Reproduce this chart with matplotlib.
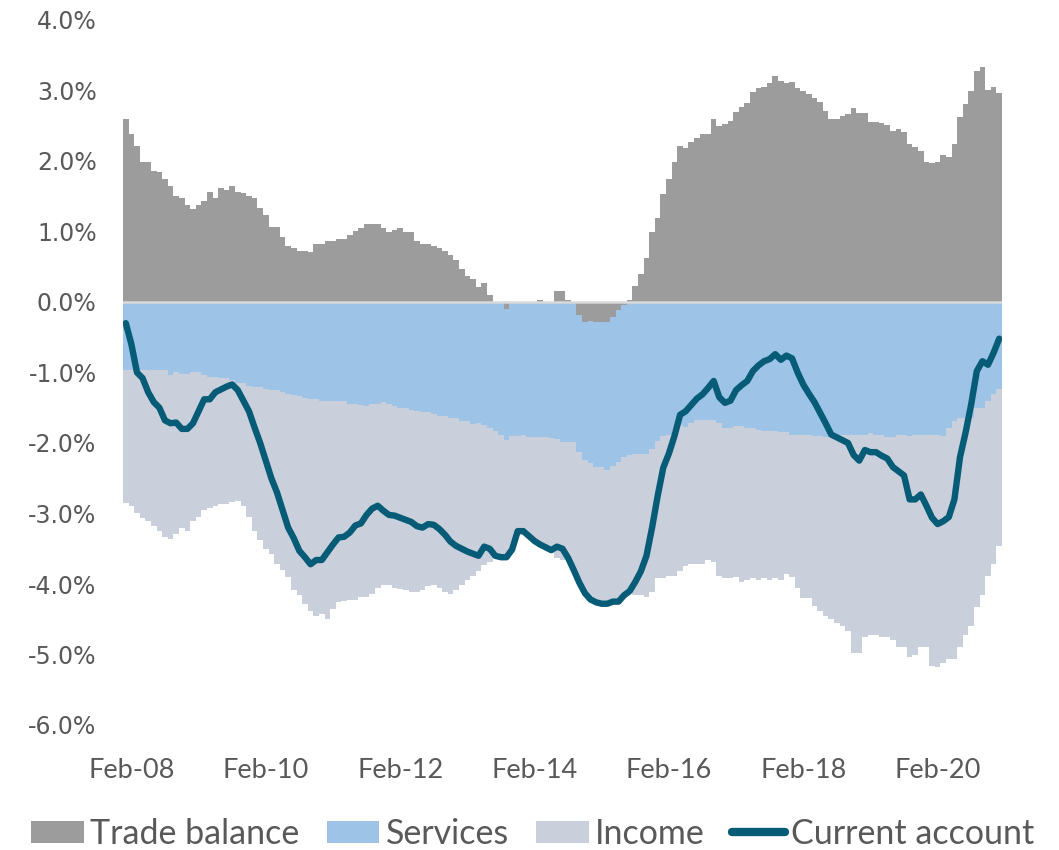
import numpy as np
import pandas as pd
import matplotlib
matplotlib.use("Agg")
import matplotlib.pyplot as plt
from matplotlib.patches import Patch
from matplotlib.lines import Line2D
from matplotlib.font_manager import FontProperties

# Monthly observations, % of GDP (rolling 12m)
months = pd.date_range("2008-01-01", periods=157, freq="MS")

trade = [
    2.60, 2.39, 2.21, 1.99, 1.99, 1.86, 1.84, 1.74, 1.65, 1.50,
    1.47, 1.37, 1.32, 1.37, 1.43, 1.56, 1.47, 1.62, 1.59, 1.65,
    1.56, 1.54, 1.50, 1.47, 1.34, 1.23, 1.07, 1.07, 0.92, 0.80,
    0.76, 0.73, 0.73, 0.71, 0.82, 0.82, 0.86, 0.86, 0.89, 0.89,
    0.95, 1.01, 1.05, 1.11, 1.11, 1.11, 1.05, 0.99, 1.02, 1.05,
    0.99, 0.99, 0.86, 0.82, 0.82, 0.80, 0.76, 0.73, 0.67, 0.59,
    0.47, 0.37, 0.32, 0.21, 0.27, 0.10, 0.00, 0.00, -0.10, 0.00,
    0.00, 0.00, 0.00, 0.00, 0.03, 0.00, 0.00, 0.16, 0.16, 0.03,
    0.00, -0.18, -0.29, -0.27, -0.29, -0.29, -0.29, -0.21, -0.11, -0.04,
    0.03, 0.23, 0.40, 0.62, 0.99, 1.19, 1.53, 1.75, 1.98, 2.21,
    2.18, 2.27, 2.32, 2.39, 2.39, 2.60, 2.49, 2.53, 2.57, 2.70,
    2.77, 2.82, 2.98, 3.03, 3.05, 3.10, 3.20, 3.14, 3.10, 3.12,
    3.04, 2.99, 2.95, 2.90, 2.84, 2.71, 2.60, 2.60, 2.64, 2.67,
    2.75, 2.68, 2.68, 2.56, 2.56, 2.54, 2.51, 2.42, 2.46, 2.41,
    2.24, 2.20, 2.14, 1.99, 1.97, 1.99, 2.08, 2.06, 2.24, 2.63,
    2.81, 2.99, 3.27, 3.33, 3.00, 3.05, 2.97,
]

services = [
    -0.96, -0.96, -0.96, -0.96, -0.96, -0.96, -0.96, -0.96, -1.03, -1.00,
    -1.02, -1.02, -1.00, -1.00, -1.03, -1.06, -1.06, -1.08, -1.08, -1.11,
    -1.15, -1.15, -1.19, -1.21, -1.21, -1.23, -1.25, -1.25, -1.28, -1.30,
    -1.32, -1.33, -1.36, -1.37, -1.37, -1.40, -1.41, -1.41, -1.40, -1.40,
    -1.44, -1.45, -1.46, -1.47, -1.45, -1.45, -1.42, -1.45, -1.48, -1.50,
    -1.51, -1.53, -1.54, -1.56, -1.56, -1.59, -1.62, -1.62, -1.65, -1.65,
    -1.69, -1.69, -1.73, -1.72, -1.75, -1.79, -1.83, -1.88, -1.86, -1.90,
    -1.90, -1.88, -1.91, -1.92, -1.91, -1.92, -1.93, -1.94, -1.98, -1.98,
    -1.98, -1.95, -1.95, -2.01, -2.05, -2.05, -2.09, -2.12, -2.16, -2.16,
    -2.17, -2.16, -2.16, -2.16, -2.09, -1.97, -1.90, -1.89, -1.82, -1.75,
    -1.77, -1.71, -1.68, -1.67, -1.67, -1.67, -1.72, -1.79, -1.79, -1.76,
    -1.76, -1.79, -1.79, -1.81, -1.83, -1.83, -1.83, -1.85, -1.85, -1.88,
    -1.88, -1.89, -1.89, -1.90, -1.90, -1.92, -1.92, -1.90, -1.89, -1.89,
    -1.89, -1.89, -1.89, -1.86, -1.89, -1.89, -1.92, -1.92, -1.89, -1.89,
    -1.90, -1.89, -1.88, -1.88, -1.88, -1.88, -1.90, -1.79, -1.69, -1.64,
    -1.64, -1.64, -1.51, -1.51, -1.40, -1.31, -1.23,
]

income = [
    -1.89, -1.94, -2.04, -2.10, -2.14, -2.22, -2.29, -2.37, -2.33, -2.29,
    -2.18, -2.23, -2.10, -2.05, -1.92, -1.86, -1.83, -1.79, -1.78, -1.72,
    -1.67, -1.75, -1.86, -2.04, -2.17, -2.27, -2.32, -2.46, -2.52, -2.60,
    -2.76, -2.83, -2.93, -3.02, -3.09, -3.02, -3.08, -2.95, -2.85, -2.84,
    -2.78, -2.77, -2.73, -2.72, -2.69, -2.60, -2.60, -2.57, -2.57, -2.57,
    -2.58, -2.59, -2.58, -2.53, -2.47, -2.42, -2.43, -2.49, -2.49, -2.43,
    -2.32, -2.26, -2.15, -2.09, -1.98, -1.90, -1.77, -1.74, -1.66, -1.61,
    -1.35, -1.37, -1.41, -1.47, -1.56, -1.56, -1.59, -1.69, -1.68, -1.68,
    -1.82, -1.85, -1.89, -1.94, -1.92, -1.94, -1.90, -1.92, -1.98, -1.96,
    -1.93, -2.00, -2.00, -2.03, -2.02, -1.94, -2.01, -1.99, -2.06, -2.07,
    -1.97, -2.00, -2.03, -2.04, -1.99, -2.02, -2.16, -2.13, -2.13, -2.14,
    -2.21, -2.15, -2.13, -2.13, -2.09, -2.11, -2.09, -2.09, -2.01, -2.02,
    -2.17, -2.31, -2.31, -2.41, -2.49, -2.54, -2.58, -2.65, -2.70, -2.78,
    -3.09, -3.09, -2.86, -2.87, -2.84, -2.86, -2.83, -2.88, -3.01, -3.01,
    -3.13, -3.12, -3.02, -3.02, -3.28, -3.30, -3.22, -3.28, -3.38, -3.26,
    -3.09, -2.95, -2.81, -2.65, -2.48, -2.40, -2.23,
]

current_account = [
    -0.30, -0.60, -1.00, -1.08, -1.28, -1.42, -1.50, -1.68, -1.72, -1.71,
    -1.80, -1.80, -1.72, -1.55, -1.38, -1.38, -1.28, -1.24, -1.20, -1.17,
    -1.25, -1.40, -1.55, -1.78, -2.00, -2.25, -2.50, -2.70, -2.95, -3.20,
    -3.35, -3.53, -3.62, -3.72, -3.66, -3.66, -3.55, -3.44, -3.34, -3.33,
    -3.27, -3.17, -3.14, -3.02, -2.93, -2.89, -2.96, -3.02, -3.03, -3.06,
    -3.09, -3.12, -3.18, -3.20, -3.15, -3.16, -3.22, -3.30, -3.40, -3.46,
    -3.50, -3.54, -3.57, -3.60, -3.47, -3.50, -3.60, -3.62, -3.62, -3.51,
    -3.25, -3.25, -3.32, -3.39, -3.44, -3.48, -3.52, -3.47, -3.50, -3.63,
    -3.80, -3.98, -4.13, -4.22, -4.26, -4.28, -4.28, -4.25, -4.25, -4.16,
    -4.10, -3.97, -3.82, -3.60, -3.20, -2.75, -2.35, -2.15, -1.90, -1.60,
    -1.55, -1.46, -1.37, -1.31, -1.22, -1.12, -1.35, -1.43, -1.40, -1.25,
    -1.18, -1.12, -0.98, -0.90, -0.84, -0.81, -0.74, -0.82, -0.76, -0.80,
    -1.00, -1.17, -1.30, -1.42, -1.57, -1.72, -1.88, -1.92, -1.96, -2.00,
    -2.17, -2.25, -2.10, -2.13, -2.13, -2.18, -2.22, -2.34, -2.40, -2.46,
    -2.80, -2.80, -2.73, -2.89, -3.06, -3.15, -3.11, -3.05, -2.80, -2.20,
    -1.85, -1.45, -0.98, -0.84, -0.89, -0.72, -0.52,
]

series_names = ["Trade balance", "Services", "Income", "Current account"]
y_ticks = [-6, -5, -4, -3, -2, -1, 0, 1, 2, 3, 4]

C_TRADE = "#9C9C9C"
C_SERV = "#9DC3E6"
C_INC = "#C9D0DC"
C_CA = "#065B77"
C_TEXT = "#595959"

W, H = 1059, 850
fig = plt.figure(figsize=(W / 100, H / 100), dpi=100)
ax = fig.add_axes([123 / W, 1 - 725 / H, (1002 - 123) / W, 705 / H])

x = np.arange(len(months))
t = np.array(trade)
s = np.array(services)
inc = np.array(income)
neg_base = np.minimum(t, 0)

# stacked columns: positives from zero, negatives stack downward
bar_kw = dict(width=1.0, linewidth=0, antialiased=False, zorder=2)
ax.bar(x, t, color=C_TRADE, **bar_kw)
ax.bar(x, s, bottom=neg_base, color=C_SERV, **bar_kw)
ax.bar(x, inc, bottom=neg_base + s, color=C_INC, **bar_kw)
ax.axhline(0, color="#D9D9D9", lw=1.8, zorder=3)
ax.plot(x, current_account, color=C_CA, lw=4.6, solid_joinstyle="round",
        solid_capstyle="round", zorder=4)

ax.set_xlim(-0.5, len(x) - 0.5)
ax.set_ylim(y_ticks[0], y_ticks[-1])
ax.set_yticks(y_ticks)
ax.set_yticklabels([f"{v:.1f}%" for v in y_ticks], fontsize=17,
                   family="DejaVu Sans", color=C_TEXT)

tick_idx = [i for i, d in enumerate(months) if d.month == 2 and d.year % 2 == 0]
ax.set_xticks(tick_idx)
ax.set_xticklabels([months[i].strftime("%b-%y") for i in tick_idx],
                   fontsize=19.5, family="Lato", color=C_TEXT)

ax.tick_params(axis="y", length=0, pad=19)
ax.tick_params(axis="x", length=0, pad=24)
for sp in ax.spines.values():
    sp.set_visible(False)

handles = [
    Patch(facecolor=C_TRADE, edgecolor="none"),
    Patch(facecolor=C_SERV, edgecolor="none"),
    Patch(facecolor=C_INC, edgecolor="none"),
    Line2D([], [], color=C_CA, lw=6, solid_capstyle="round"),
]
fig.legend(handles, series_names, loc="center", bbox_to_anchor=(0.503, 0.019),
           ncol=4, frameon=False, prop=FontProperties(family="Lato", size=24.5),
           labelcolor=C_TEXT, handlelength=1.55, handleheight=0.6,
           handletextpad=0.18, columnspacing=0.8, borderpad=0, borderaxespad=0)

fig.savefig("out.png", dpi=100)
